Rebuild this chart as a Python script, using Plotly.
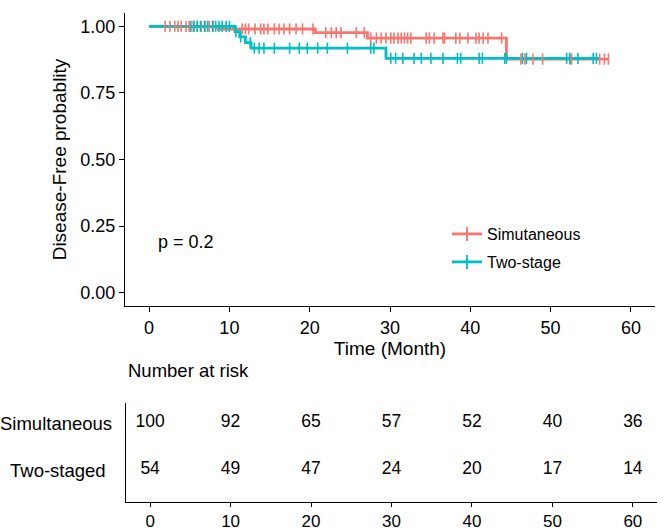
import numpy as np
import plotly.graph_objects as go

# ---------------- data ----------------
groups = ["Simutaneous", "Two-stage"]
risk_labels = ["Simultaneous", "Two-staged"]
colors = ["#F8766D", "#00BFC4"]

# Kaplan-Meier step functions: event times and survival after each event
sim_event_t = [8.6, 20.7, 27.2, 44.5]
sim_event_s = [0.990, 0.976, 0.956, 0.877]
sim_end = 57.2

two_event_t = [10.7, 11.3, 12.0, 12.7, 29.5]
two_event_s = [0.980, 0.960, 0.939, 0.918, 0.880]
two_end = 56.1

# censoring times
sim_cens = [2.0, 2.6, 3.2, 3.6, 4.0, 4.6, 5.0, 5.5, 6.0, 6.5, 7.0, 7.5, 8.0,
            11.6, 12.0, 12.4, 13.2, 13.9, 14.3, 14.8, 15.6, 16.2, 16.8, 17.5,
            18.3, 19.1, 20.4, 22.0, 22.7, 23.3, 23.9, 25.8, 26.8, 27.6, 28.3,
            28.9, 29.5, 30.1, 30.5, 31.0, 31.4, 31.8, 32.2, 32.6, 34.5, 34.9,
            35.5, 36.6, 36.8, 38.2, 38.7, 39.7, 40.7, 41.1, 41.6, 42.2, 43.9,
            46.3, 46.8, 47.8, 49.0, 52.4, 52.6, 56.1, 56.7, 57.2]
two_cens = [5.2, 5.6, 6.0, 6.4, 6.9, 7.3, 7.9, 8.3, 8.7, 9.1, 9.6, 10.0,
            10.8, 11.4, 12.6, 13.1, 13.7, 14.3, 15.6, 17.5, 18.7, 19.7, 21.0,
            22.2, 24.7, 27.6, 28.0, 30.1, 30.7, 31.6, 33.0, 33.9, 35.1, 36.6,
            38.4, 38.8, 41.1, 41.5, 44.3, 44.5, 46.5, 47.0, 52.0, 52.4, 53.4,
            55.3, 55.7]

# number at risk table
risk_times = [0, 10, 20, 30, 40, 50, 60]
sim_risk = [100, 92, 65, 57, 52, 40, 36]
two_risk = [54, 49, 47, 24, 20, 17, 14]

x_ticks = [0, 10, 20, 30, 40, 50, 60]
y_ticks = [0.0, 0.25, 0.50, 0.75, 1.00]
y_ticklabels = ["0.00", "0.25", "0.50", "0.75", "1.00"]
p_text = "p = 0.2"

# ---------------- figure ----------------
W, H = 669, 531
FONT = "Liberation Sans, Arial, sans-serif"


def px_x(p):
    return p / W


def px_y(p):
    return 1 - p / H


def step_value(t, ev_t, ev_s):
    idx = np.searchsorted(np.array(ev_t), np.array(t), side="right")
    levels = np.concatenate([[1.0], np.array(ev_s)])
    return levels[idx]


fig = go.Figure()

curves = [
    (sim_event_t, sim_event_s, sim_end, sim_cens),
    (two_event_t, two_event_s, two_end, two_cens),
]

LW = 2.8
# step lines
for i, (et, es, end, cens) in enumerate(curves):
    xs = [0] + list(et) + [end]
    ys = [1.0] + list(es) + [es[-1]]
    fig.add_trace(go.Scatter(
        x=xs, y=ys, mode="lines", line=dict(color=colors[i], width=LW, shape="hv"),
        showlegend=False, hoverinfo="skip", xaxis="x", yaxis="y"))

# censor marks
for i, (et, es, end, cens) in enumerate(curves):
    fig.add_trace(go.Scatter(
        x=cens, y=step_value(cens, et, es), mode="markers",
        marker=dict(symbol="line-ns", size=8, line=dict(color=colors[i], width=1.6)),
        showlegend=False, hoverinfo="skip", xaxis="x", yaxis="y"))

# legend entries (two separate legends to match spacing)
for i, g in enumerate(groups):
    fig.add_trace(go.Scatter(
        x=[None], y=[None], mode="lines+markers", name=g,
        line=dict(color=colors[i], width=LW),
        marker=dict(symbol="line-ns", size=10, line=dict(color=colors[i], width=1.8)),
        legend="legend" if i == 0 else "legend2", xaxis="x", yaxis="y"))

# risk table numbers
risk_row_y = [0.80, 0.33]
for i, vals in enumerate([sim_risk, two_risk]):
    fig.add_trace(go.Scatter(
        x=risk_times, y=[risk_row_y[i]] * len(risk_times), mode="text",
        text=[str(v) for v in vals], textposition="middle center",
        textfont=dict(family=FONT, size=17.5, color="black"),
        showlegend=False, hoverinfo="skip", xaxis="x2", yaxis="y2"))

axis_common = dict(showline=True, linecolor="black", linewidth=1.1,
                   ticks="outside", ticklen=5, tickcolor="black", tickwidth=1.1,
                   showgrid=False, zeroline=False, automargin=False,
                   tickfont=dict(family=FONT, size=18, color="black"))
axis_table = dict(axis_common)
axis_table.update(ticklen=4, tickfont=dict(family=FONT, size=17, color="black"))

fig.update_layout(
    width=W, height=H,
    margin=dict(l=0, r=0, t=0, b=0),
    paper_bgcolor="white", plot_bgcolor="white",
    font=dict(family=FONT, color="black"),
    xaxis=dict(domain=[px_x(125), px_x(655)], range=[-3, 63],
               tickvals=x_ticks, anchor="y",
               title=dict(text="Time (Month)", font=dict(family=FONT, size=19, color="black"),
                          standoff=4),
               **axis_common),
    yaxis=dict(domain=[px_y(306), px_y(13)], range=[-0.05, 1.05],
               tickvals=y_ticks, ticktext=y_ticklabels, anchor="x",
               title=dict(text="Disease-Free probablity",
                          font=dict(family=FONT, size=19, color="black"), standoff=8),
               **axis_common),
    xaxis2=dict(domain=[px_x(126), px_x(657)], range=[-3, 63],
                tickvals=x_ticks, anchor="y2", **axis_table),
    yaxis2=dict(domain=[px_y(502), px_y(403)], range=[0, 1], anchor="x2",
                showline=True, linecolor="black", linewidth=1.1, showticklabels=False,
                ticks="", showgrid=False, zeroline=False, automargin=False),
    legend=dict(x=px_x(447), y=px_y(234), xanchor="left", yanchor="middle",
                bgcolor="rgba(0,0,0,0)", font=dict(family=FONT, size=16, color="black"),
                itemwidth=30),
    legend2=dict(x=px_x(447), y=px_y(262), xanchor="left", yanchor="middle",
                 bgcolor="rgba(0,0,0,0)", font=dict(family=FONT, size=16, color="black"),
                 itemwidth=30),
    annotations=[
        dict(text=p_text, x=px_x(156), y=px_y(242), xref="paper", yref="paper",
             xanchor="left", yanchor="middle", showarrow=False,
             font=dict(family=FONT, size=18, color="black")),
        dict(text="Number at risk", x=px_x(126), y=px_y(370), xref="paper", yref="paper",
             xanchor="left", yanchor="middle", showarrow=False,
             font=dict(family=FONT, size=18.5, color="black")),
        dict(text=risk_labels[0], x=px_x(56), y=px_y(423), xref="paper", yref="paper",
             xanchor="center", yanchor="middle", showarrow=False,
             font=dict(family=FONT, size=18.5, color="black")),
        dict(text=risk_labels[1], x=px_x(58), y=px_y(470), xref="paper", yref="paper",
             xanchor="center", yanchor="middle", showarrow=False,
             font=dict(family=FONT, size=18.5, color="black")),
    ],
)

fig.write_html("out.html", config={"displayModeBar": False},
               post_script="document.body.style.margin='0';document.body.style.padding='0';")
